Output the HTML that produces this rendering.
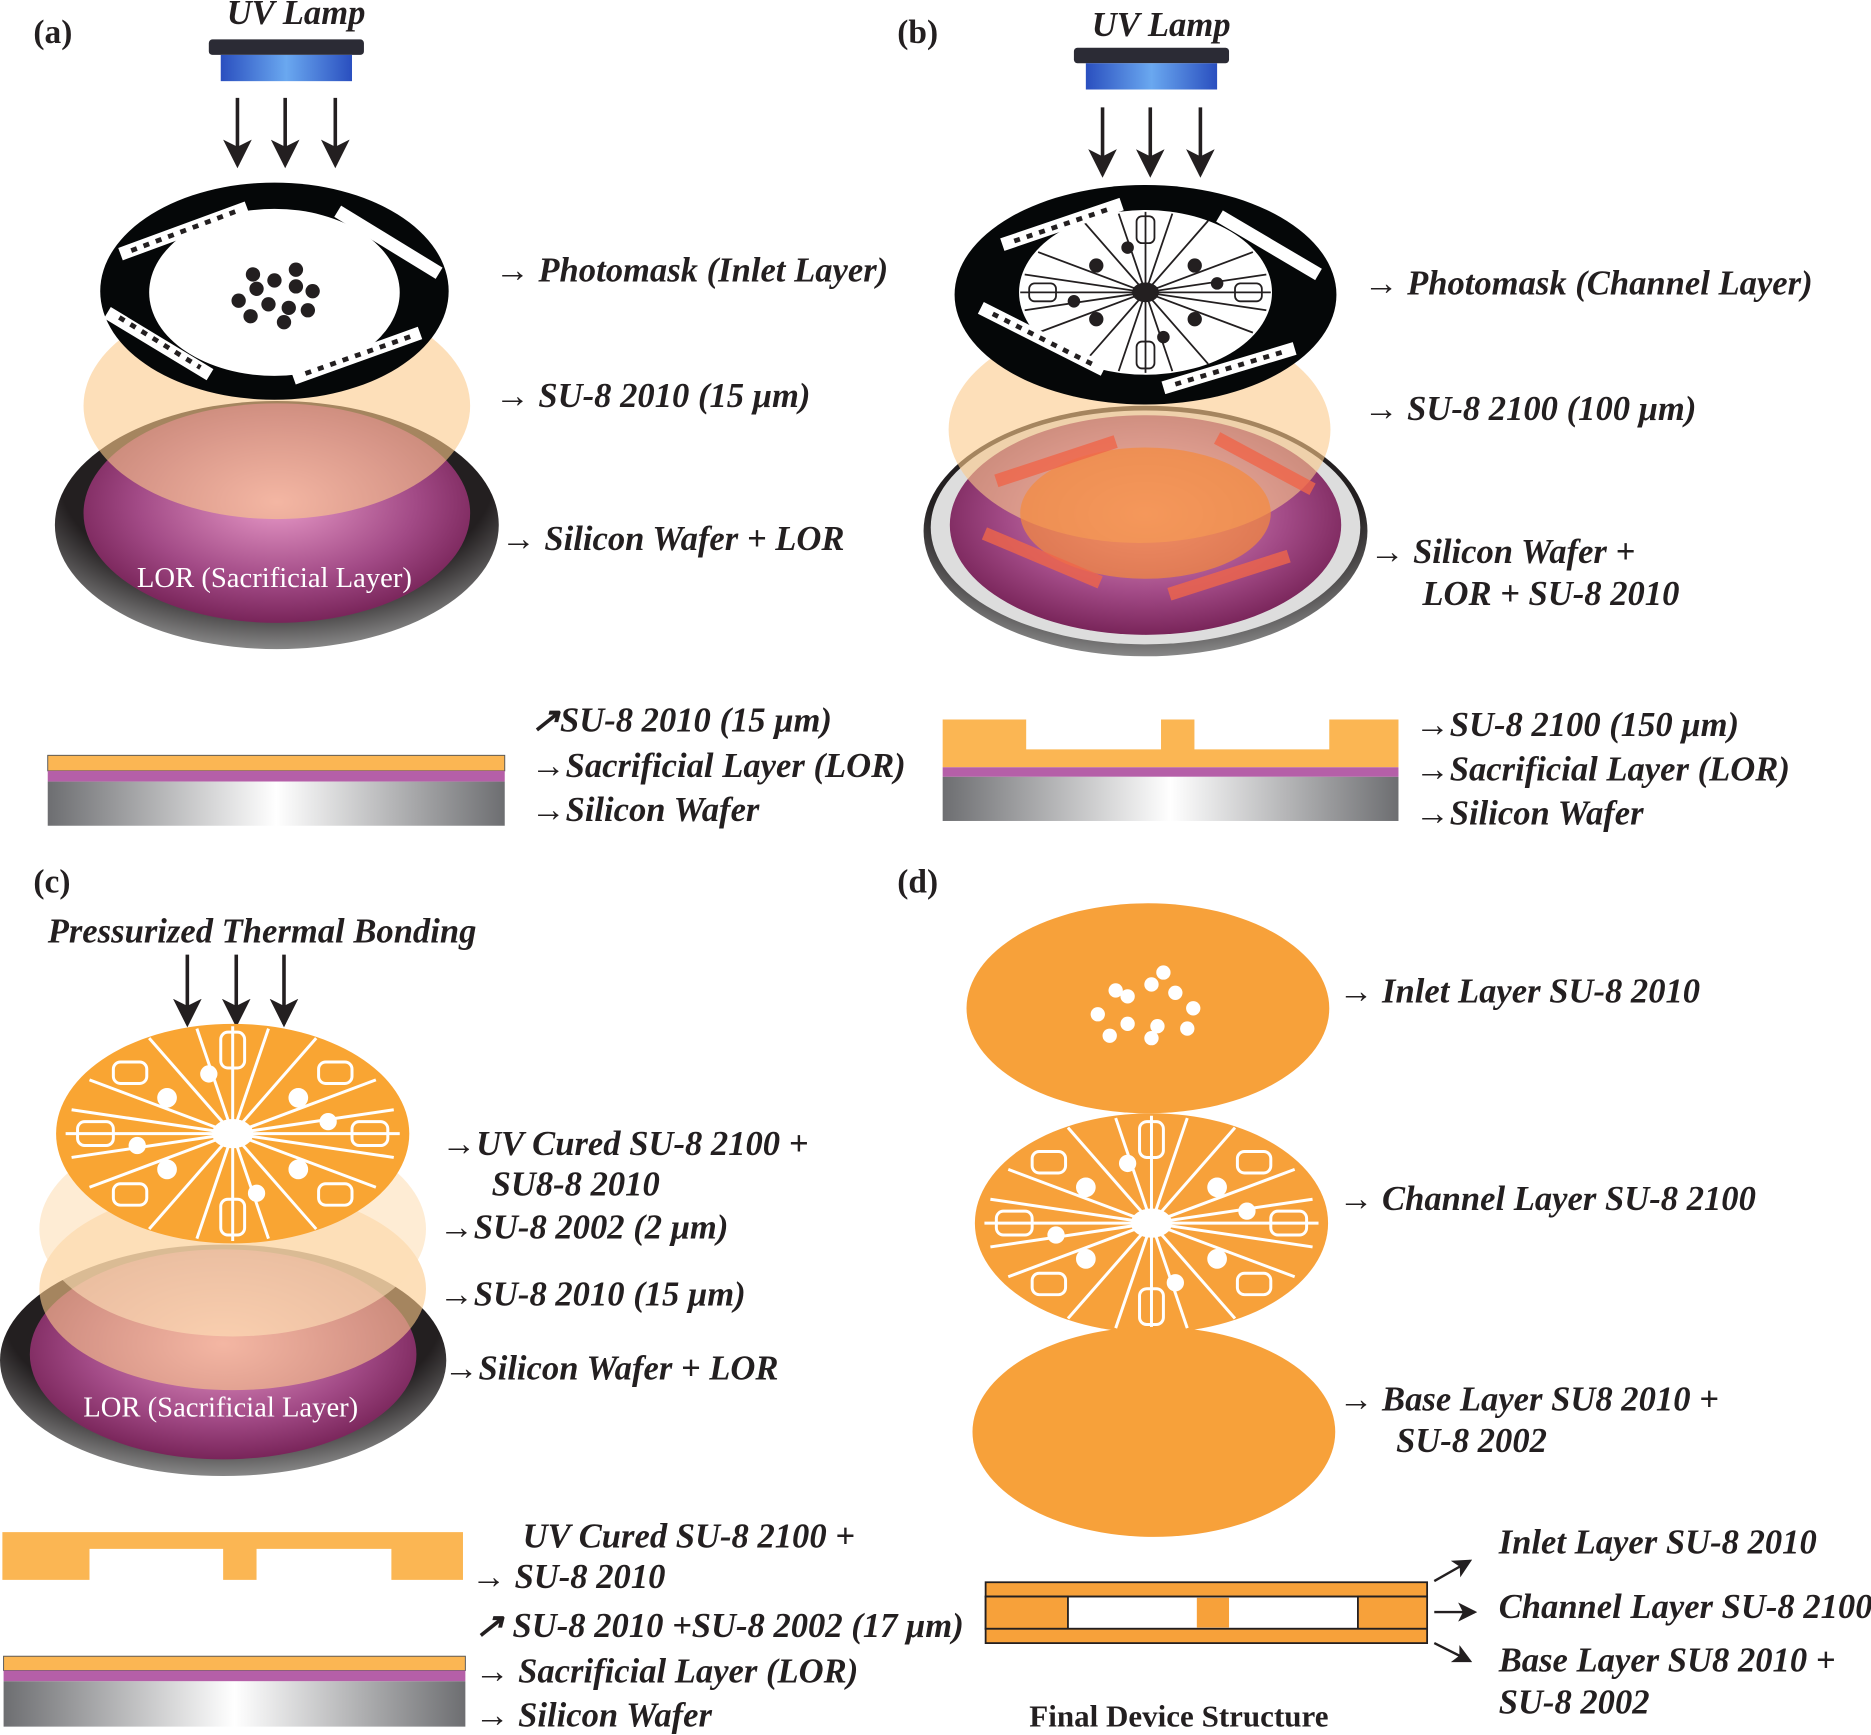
<!DOCTYPE html>
<html><head><meta charset="utf-8"><style>
html,body{margin:0;padding:0;background:#fff}
svg{display:block}
.t{font-family:"Liberation Serif",serif;font-style:italic;font-weight:bold;font-size:29px;fill:#231f20}
.h{font-family:"Liberation Serif",serif;font-weight:bold;font-size:28px;fill:#231f20}
.w{font-family:"Liberation Serif",serif;font-size:24px;fill:#fff}
</style></head><body>
<svg width="1871" height="1735" viewBox="0 0 1568 1454" xmlns="http://www.w3.org/2000/svg">
<defs>
<linearGradient id="si" x1="0" x2="1"><stop offset="0" stop-color="#6d6e71"/><stop offset="0.5" stop-color="#fff"/><stop offset="1" stop-color="#6d6e71"/></linearGradient>
<radialGradient id="mag" cx="0.5" cy="0.45" r="0.6"><stop offset="0" stop-color="#e89ac8"/><stop offset="0.6" stop-color="#a24a86"/><stop offset="1" stop-color="#6e1b4e"/></radialGradient>
<radialGradient id="rim" cx="0.5" cy="0.3" r="0.7"><stop offset="0.7" stop-color="#231f20"/><stop offset="1" stop-color="#888"/></radialGradient>
<linearGradient id="lamp" x1="0" x2="1"><stop offset="0" stop-color="#2a4fbf"/><stop offset="0.5" stop-color="#6aa8f0"/><stop offset="1" stop-color="#2a4fbf"/></linearGradient>
<marker id="ah" markerWidth="8" markerHeight="8" refX="7" refY="4" orient="auto"><path d="M0,0 L8,4 L0,8 L2,4z" fill="#231f20"/></marker>
<g id="spokes" stroke="#fff" stroke-width="2.5" fill="none">
<line x1="-140" y1="0" x2="140" y2="0"/><line x1="0" y1="-90" x2="0" y2="90"/>
<line x1="-120" y1="-45" x2="120" y2="45"/><line x1="-120" y1="45" x2="120" y2="-45"/>
<line x1="-70" y1="-80" x2="70" y2="80"/><line x1="-70" y1="80" x2="70" y2="-80"/>
<line x1="-135" y1="-20" x2="135" y2="20"/><line x1="-135" y1="20" x2="135" y2="-20"/>
<line x1="-30" y1="-88" x2="30" y2="88"/><line x1="-30" y1="88" x2="30" y2="-88"/>
<rect x="-10" y="-85" width="20" height="30" rx="6"/><rect x="-10" y="55" width="20" height="30" rx="6"/>
<rect x="-130" y="-10" width="30" height="20" rx="6"/><rect x="100" y="-10" width="30" height="20" rx="6"/>
<rect x="-100" y="-60" width="28" height="18" rx="6"/><rect x="72" y="42" width="28" height="18" rx="6"/>
<rect x="72" y="-60" width="28" height="18" rx="6"/><rect x="-100" y="42" width="28" height="18" rx="6"/>
<ellipse cx="0" cy="0" rx="16" ry="11" fill="#fff"/>
<circle cx="-55" cy="-30" r="7" fill="#fff"/><circle cx="55" cy="30" r="7" fill="#fff"/>
<circle cx="55" cy="-30" r="7" fill="#fff"/><circle cx="-55" cy="30" r="7" fill="#fff"/>
<circle cx="-20" cy="-50" r="6" fill="#fff"/><circle cx="20" cy="50" r="6" fill="#fff"/>
<circle cx="-80" cy="10" r="6" fill="#fff"/><circle cx="80" cy="-10" r="6" fill="#fff"/>
</g>
</defs>

<!-- (a) -->
<text class="h" x="28" y="36">(a)</text>
<text class="t" x="190" y="20">UV Lamp</text>
<rect x="175" y="33" width="130" height="13" rx="3" fill="#2b2b35"/>
<rect x="185" y="46" width="110" height="22" fill="url(#lamp)"/>
<g stroke="#231f20" stroke-width="3" marker-end="url(#ah)"><line x1="199" y1="82" x2="199" y2="138"/><line x1="239" y1="82" x2="239" y2="138"/><line x1="281" y1="82" x2="281" y2="138"/></g>
<ellipse cx="232" cy="440" rx="186" ry="104" fill="url(#rim)"/>
<ellipse cx="232" cy="430" rx="162" ry="92" fill="url(#mag)"/>
<ellipse cx="232" cy="340" rx="162" ry="95" fill="#fbc98a" opacity="0.6"/>
<ellipse cx="230" cy="244" rx="146" ry="91" fill="#050708"/>
<ellipse cx="230" cy="245" rx="105" ry="70" fill="#fff"/>
<g stroke="#fff" stroke-width="11"><line x1="101" y1="213" x2="207" y2="174"/><line x1="283" y1="177" x2="368" y2="229"/><line x1="90" y1="262" x2="176" y2="314"/><line x1="246" y1="317" x2="352" y2="279"/></g>
<g stroke="#231f20" stroke-width="4" stroke-dasharray="5 6"><line x1="110" y1="210" x2="198" y2="177"/><line x1="100" y1="266" x2="168" y2="308"/><line x1="256" y1="313" x2="344" y2="282"/></g>
<g fill="#231f20"><circle cx="230" cy="235" r="6"/><circle cx="215" cy="242" r="6"/><circle cx="248" cy="240" r="6"/><circle cx="262" cy="244" r="6"/><circle cx="200" cy="252" r="6"/><circle cx="225" cy="255" r="6"/><circle cx="242" cy="258" r="6"/><circle cx="258" cy="260" r="6"/><circle cx="210" cy="265" r="6"/><circle cx="238" cy="270" r="6"/><circle cx="212" cy="230" r="6"/><circle cx="248" cy="226" r="6"/></g>
<text class="w" x="230" y="492" text-anchor="middle">LOR (Sacrificial Layer)</text>
<g class="t"><text x="415" y="236">→ Photomask (Inlet Layer)</text><text x="415" y="341">→ SU-8 2010 (15 μm)</text><text x="420" y="461">→ Silicon Wafer + LOR</text></g>
<rect x="40" y="633" width="383" height="13" fill="#fbb653" stroke="#555" stroke-width="0.8"/>
<rect x="40" y="646" width="383" height="9" fill="#b55fa8"/>
<rect x="40" y="655" width="383" height="37" fill="url(#si)"/>
<g class="t"><text x="445" y="613">↗SU-8 2010 (15 μm)</text><text x="445" y="651">→Sacrificial Layer (LOR)</text><text x="445" y="688">→Silicon Wafer</text></g>

<!-- (b) -->
<text class="h" x="752" y="36">(b)</text>
<text class="t" x="915" y="30">UV Lamp</text>
<rect x="900" y="40" width="130" height="13" rx="3" fill="#2b2b35"/>
<rect x="910" y="53" width="110" height="22" fill="url(#lamp)"/>
<g stroke="#231f20" stroke-width="3" marker-end="url(#ah)"><line x1="924" y1="90" x2="924" y2="146"/><line x1="964" y1="90" x2="964" y2="146"/><line x1="1006" y1="90" x2="1006" y2="146"/></g>
<ellipse cx="960" cy="445" rx="186" ry="105" fill="url(#rim)"/>
<ellipse cx="960" cy="442" rx="180" ry="98" fill="#ddd"/>
<ellipse cx="960" cy="440" rx="164" ry="92" fill="url(#mag)"/>
<ellipse cx="955" cy="360" rx="160" ry="95" fill="#fbc98a" opacity="0.6"/>
<ellipse cx="960" cy="430" rx="105" ry="55" fill="#f58a3c" opacity="0.7"/>
<g stroke="#f0664a" stroke-width="11" opacity="0.8"><line x1="835" y1="403" x2="935" y2="370"/><line x1="1020" y1="367" x2="1100" y2="410"/><line x1="825" y1="447" x2="922" y2="488"/><line x1="980" y1="498" x2="1080" y2="466"/></g>
<ellipse cx="960" cy="247" rx="160" ry="92" fill="#050708"/>
<ellipse cx="960" cy="245" rx="106" ry="69" fill="#fff"/>
<g stroke="#231f20" stroke-width="2" fill="none" transform="translate(960 245) scale(0.75 0.75)">
<line x1="-140" y1="0" x2="140" y2="0"/><line x1="0" y1="-90" x2="0" y2="90"/><line x1="-120" y1="-45" x2="120" y2="45"/><line x1="-120" y1="45" x2="120" y2="-45"/><line x1="-70" y1="-80" x2="70" y2="80"/><line x1="-70" y1="80" x2="70" y2="-80"/><line x1="-30" y1="-88" x2="30" y2="88"/><line x1="-30" y1="88" x2="30" y2="-88"/><line x1="-135" y1="-20" x2="135" y2="20"/><line x1="-135" y1="20" x2="135" y2="-20"/>
<rect x="-10" y="-85" width="20" height="30" rx="6"/><rect x="-10" y="55" width="20" height="30" rx="6"/><rect x="-130" y="-10" width="30" height="20" rx="6"/><rect x="100" y="-10" width="30" height="20" rx="6"/>
<ellipse cx="0" cy="0" rx="14" ry="10" fill="#231f20"/><circle cx="-55" cy="-30" r="7" fill="#231f20"/><circle cx="55" cy="30" r="7" fill="#231f20"/><circle cx="55" cy="-30" r="7" fill="#231f20"/><circle cx="-55" cy="30" r="7" fill="#231f20"/><circle cx="-20" cy="-50" r="6" fill="#231f20"/><circle cx="20" cy="50" r="6" fill="#231f20"/><circle cx="-80" cy="10" r="6" fill="#231f20"/><circle cx="80" cy="-10" r="6" fill="#231f20"/></g>
<g stroke="#fff" stroke-width="11"><line x1="840" y1="205" x2="940" y2="171"/><line x1="1022" y1="181" x2="1105" y2="230"/><line x1="822" y1="258" x2="925" y2="310"/><line x1="975" y1="325" x2="1085" y2="292"/></g>
<g stroke="#231f20" stroke-width="4" stroke-dasharray="5 6"><line x1="850" y1="202" x2="930" y2="175"/><line x1="832" y1="263" x2="915" y2="305"/><line x1="985" y1="322" x2="1075" y2="295"/></g>
<g class="t"><text x="1143" y="247">→ Photomask (Channel Layer)</text><text x="1143" y="352">→ SU-8 2100 (100 μm)</text><text x="1148" y="472">→ Silicon Wafer +</text><text x="1192" y="507">LOR + SU-8 2010</text></g>
<path d="M790,603h70v25h113v-25h28v25h113v-25h58v40h-382z" fill="#fbb653"/>
<rect x="790" y="643" width="382" height="8" fill="#b55fa8"/>
<rect x="790" y="651" width="382" height="37" fill="url(#si)"/>
<g class="t"><text x="1186" y="617">→SU-8 2100 (150 μm)</text><text x="1186" y="654">→Sacrificial Layer (LOR)</text><text x="1186" y="691">→Silicon Wafer</text></g>

<!-- (c) -->
<text class="h" x="28" y="748">(c)</text>
<text class="t" x="40" y="790">Pressurized Thermal Bonding</text>
<g stroke="#231f20" stroke-width="3" marker-end="url(#ah)"><line x1="157" y1="800" x2="157" y2="858"/><line x1="198" y1="800" x2="198" y2="858"/><line x1="238" y1="800" x2="238" y2="858"/></g>
<ellipse cx="187" cy="1140" rx="187" ry="97" fill="url(#rim)"/>
<ellipse cx="187" cy="1135" rx="162" ry="88" fill="url(#mag)"/>
<ellipse cx="195" cy="1080" rx="162" ry="85" fill="#fbc98a" opacity="0.6"/>
<ellipse cx="195" cy="1030" rx="162" ry="90" fill="#fde0b8" opacity="0.6"/>
<ellipse cx="195" cy="950" rx="148" ry="92" fill="#f9a533"/>
<g transform="translate(195 950)"><use href="#spokes"/></g>
<text class="w" x="185" y="1187" text-anchor="middle">LOR (Sacrificial Layer)</text>
<g class="t"><text x="370" y="968">→UV Cured SU-8 2100 +</text><text x="412" y="1002">SU8-8 2010</text><text x="368" y="1038">→SU-8 2002 (2 μm)</text><text x="368" y="1094">→SU-8 2010 (15 μm)</text><text x="372" y="1156">→Silicon Wafer + LOR</text></g>
<path d="M2,1284h386v40h-60v-26h-113v26h-28v-26h-112v26h-73z" fill="#fbb653"/>
<rect x="3" y="1388" width="387" height="12" fill="#fbb653" stroke="#555" stroke-width="0.8"/>
<rect x="3" y="1400" width="387" height="9" fill="#b55fa8"/>
<rect x="3" y="1409" width="387" height="38" fill="url(#si)"/>
<g class="t"><text x="438" y="1297">UV Cured SU-8 2100 +</text><text x="395" y="1331">→ SU-8 2010</text><text x="398" y="1372">↗ SU-8 2010 +SU-8 2002 (17 μm)</text><text x="398" y="1410">→ Sacrificial Layer (LOR)</text><text x="398" y="1447">→ Silicon Wafer</text></g>

<!-- (d) -->
<text class="h" x="752" y="748">(d)</text>
<ellipse cx="962" cy="845" rx="152" ry="88" fill="#f7a13a"/>
<g fill="#fff"><circle cx="945" cy="835" r="6"/><circle cx="965" cy="825" r="6"/><circle cx="985" cy="832" r="6"/><circle cx="1000" cy="845" r="6"/><circle cx="920" cy="850" r="6"/><circle cx="945" cy="858" r="6"/><circle cx="970" cy="860" r="6"/><circle cx="995" cy="862" r="6"/><circle cx="930" cy="868" r="6"/><circle cx="965" cy="870" r="6"/><circle cx="935" cy="830" r="6"/><circle cx="975" cy="815" r="6"/></g>
<ellipse cx="965" cy="1025" rx="148" ry="92" fill="#f7a13a"/>
<g transform="translate(965 1025)"><use href="#spokes"/></g>
<ellipse cx="967" cy="1200" rx="152" ry="88" fill="#f7a13a"/>
<g class="t"><text x="1122" y="840">→ Inlet Layer SU-8 2010</text><text x="1122" y="1014">→ Channel Layer SU-8 2100</text><text x="1122" y="1182">→ Base Layer SU8 2010 +</text><text x="1170" y="1217">SU-8 2002</text></g>
<g stroke="#231f20" stroke-width="1.5">
<rect x="826" y="1326" width="370" height="12" fill="#f7a13a"/>
<rect x="826" y="1338" width="370" height="27" fill="#fff"/>
<rect x="826" y="1338" width="69" height="27" fill="#f7a13a"/>
<rect x="1138" y="1338" width="58" height="27" fill="#f7a13a"/>
<rect x="826" y="1365" width="370" height="12" fill="#f7a13a"/>
</g>
<rect x="1003" y="1339" width="27" height="25" fill="#f7a13a"/>
<g stroke="#231f20" stroke-width="2" marker-end="url(#ah)"><line x1="1202" y1="1325" x2="1232" y2="1308"/><line x1="1202" y1="1351" x2="1236" y2="1351"/><line x1="1202" y1="1377" x2="1232" y2="1392"/></g>
<g class="t"><text x="1256" y="1302">Inlet Layer SU-8 2010</text><text x="1256" y="1356">Channel Layer SU-8 2100</text><text x="1256" y="1401">Base Layer SU8 2010 +</text><text x="1256" y="1436">SU-8 2002</text></g>
<text class="h" x="988" y="1447" text-anchor="middle" style="font-size:26px">Final Device Structure</text>
</svg>
</body></html>
